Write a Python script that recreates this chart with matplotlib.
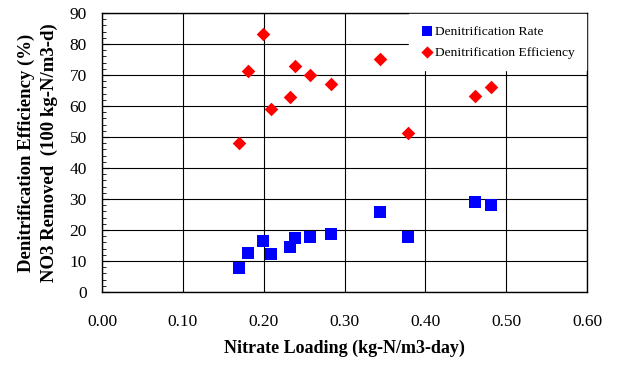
import matplotlib
matplotlib.use("Agg")
import matplotlib.pyplot as plt
from matplotlib.ticker import MultipleLocator, FormatStrFormatter

nitrate_loading = [0.170, 0.181, 0.199, 0.209, 0.233, 0.239, 0.257, 0.283, 0.344, 0.378, 0.462, 0.481]
denit_rate = [7.7, 12.7, 16.6, 12.3, 14.6, 17.3, 17.7, 18.7, 25.7, 17.6, 29.0, 28.0]
denit_eff = [48.0, 71.2, 83.1, 59.0, 62.8, 72.8, 70.1, 67.0, 75.1, 51.4, 63.2, 66.2]

plt.rcParams['font.family'] = ['Liberation Serif', 'DejaVu Serif']

fig = plt.figure(figsize=(6.3, 3.65), dpi=100)
ax = fig.add_axes([102/630, 1-292/365, (587-102)/630, (292-13)/365])

ax.scatter(nitrate_loading, denit_rate, marker='s', s=70, color='#0000FF', zorder=3,
           label='Denitrification Rate', linewidths=0)
ax.scatter(nitrate_loading, denit_eff, marker='D', s=48, color='#FF0000', zorder=3,
           label='Denitrification Efficiency', linewidths=0)

ax.set_xlim(0, 0.6)
ax.set_ylim(0, 90)
ax.xaxis.set_major_locator(MultipleLocator(0.1))
ax.xaxis.set_major_formatter(FormatStrFormatter('%.2f'))
ax.yaxis.set_major_locator(MultipleLocator(10))
ax.yaxis.set_minor_locator(MultipleLocator(2))
ax.grid(True, which='major', color='black', linewidth=0.8, zorder=0)
ax.set_axisbelow(True)
for s in ax.spines.values():
    s.set_linewidth(1.0)
ax.tick_params(axis='y', which='major', direction='in', length=5, labelsize=12.5, pad=11)
ax.tick_params(axis='y', which='minor', direction='in', length=3)
ax.tick_params(axis='x', which='major', direction='in', length=0, labelsize=12.5, pad=16)

ax.set_xlabel('Nitrate Loading (kg-N/m3-day)', fontsize=13, fontweight='bold', labelpad=7)
ax.set_ylabel('Denitrification Efficiency (%)\nNO3 Removed  (100 kg-N/m3-d)', fontsize=13.5,
              fontweight='bold', labelpad=8, linespacing=1.45)

leg = ax.legend(loc='upper right', bbox_to_anchor=(0.997, 0.995), fontsize=9.7, frameon=True,
                handletextpad=0.1, handlelength=1.0, borderpad=0.8, labelspacing=0.65,
                borderaxespad=0.0, markerscale=0.9)
leg.get_frame().set_edgecolor('white')
leg.get_frame().set_facecolor('white')
leg.get_frame().set_alpha(1.0)
leg.get_frame().set_boxstyle('square', pad=0.0)

fig.savefig('out.png', dpi=100)
